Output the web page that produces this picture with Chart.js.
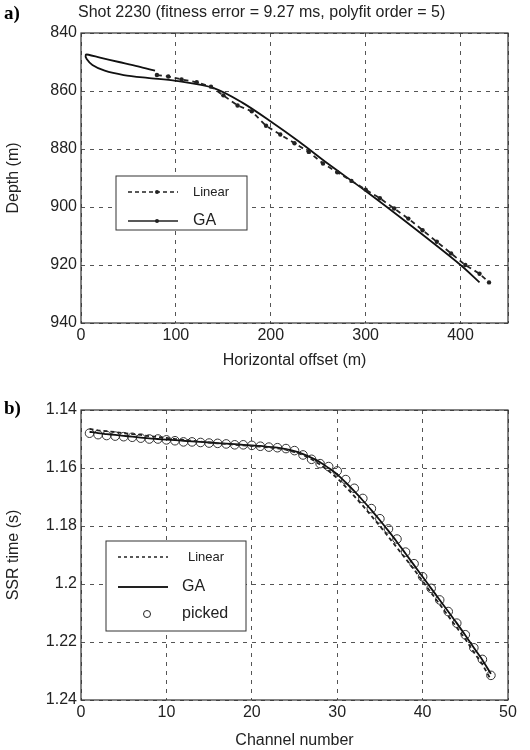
<!DOCTYPE html>
<html><head><meta charset="utf-8">
<script src="https://cdn.jsdelivr.net/npm/chart.js@4"></script>
<style>
body{margin:0;background:#fff;width:530px;height:750px;position:relative;overflow:hidden;font-family:"Liberation Sans",Arial,sans-serif}
.c{position:absolute;left:0}
.lab{position:absolute;font-family:"Liberation Serif","DejaVu Serif",serif;font-weight:bold;font-size:19px}
.ttl{position:absolute;left:78px;top:3px;font-size:16px;color:#222}
</style></head><body>
<div class="c" style="top:0;width:530px;height:370px"><canvas id="a"></canvas></div>
<div class="c" style="top:370px;width:530px;height:380px"><canvas id="b"></canvas></div>
<div class="lab" style="left:4px;top:2px">a)</div>
<div class="lab" style="left:4px;top:397px">b)</div>
<div class="ttl">Shot 2230 (fitness error = 9.27 ms, polyfit order = 5)</div>
<script>
// Panel a: ray path
const gaX = [78,60,40,20,8,5,6,12,25,45,70,100,140,170,200,230,260,300,350,400,420];
const gaY = [853,851.5,850,848.5,847.5,847.5,849,851,853,854.5,855.5,856.5,859,864,870.5,877.5,885,894.5,907,920,926];
const linX = [80,92,106,122,137,150,165,180,195,210,225,240,255,270,285,300,315,330,345,360,375,390,405,420,430];
const linY = [854.5,855,856,857,858.5,861.5,865,867,872,875,878,881,885,888,891,894,897,900.5,904,908,912,916,920,923,926];
const xTicksA = [0,100,200,300,400];
// Panel b: SSR times
const channels = Array.from({length:48},(_,i)=>i+1);
const picked = [1.148,1.1485,1.1488,1.149,1.1492,1.1494,1.1497,1.150,1.150,1.1503,1.1506,1.151,1.151,1.1512,1.1514,1.1515,1.1517,1.152,1.152,1.1522,1.1525,1.1528,1.153,1.1533,1.154,1.1555,1.157,1.1585,1.1595,1.161,1.164,1.167,1.1705,1.174,1.1775,1.181,1.1845,1.189,1.193,1.1975,1.2015,1.2055,1.2095,1.2135,1.2175,1.222,1.226,1.2315];
const ga = [1.1475,1.148,1.1483,1.1486,1.1489,1.1492,1.1495,1.1498,1.150,1.1502,1.1504,1.1506,1.1508,1.151,1.1512,1.1514,1.1516,1.1518,1.152,1.1522,1.1524,1.1527,1.153,1.1535,1.1542,1.1552,1.1565,1.158,1.16,1.1622,1.165,1.168,1.1712,1.1745,1.178,1.1817,1.1855,1.1895,1.1935,1.1975,1.2015,1.2055,1.2095,1.2135,1.2177,1.222,1.2262,1.231];
const linear = [1.1465,1.147,1.1473,1.1476,1.148,1.1483,1.1486,1.149,1.1493,1.1496,1.15,1.1503,1.1506,1.1509,1.1512,1.1515,1.1517,1.152,1.1522,1.1524,1.1526,1.1529,1.1532,1.1537,1.1545,1.1555,1.157,1.1588,1.161,1.1635,1.1665,1.1697,1.173,1.1765,1.18,1.1837,1.1875,1.1912,1.195,1.199,1.203,1.207,1.211,1.215,1.219,1.2235,1.2277,1.233];

const F = {family:'"Liberation Sans",Arial,sans-serif', size:16};
const frame = {id:'frame', afterDraw(c){const a=c.chartArea,x=c.ctx;x.save();x.strokeStyle='#333';x.lineWidth=1.2;x.strokeRect(a.left,a.top,a.right-a.left,a.bottom-a.top);x.restore();}};
function legendPlugin(box, items){return {id:'leg',afterDraw(c){const x=c.ctx;x.save();x.fillStyle='#fff';x.fillRect(box[0],box[1],box[2],box[3]);x.strokeStyle='#333';x.lineWidth=1;x.strokeRect(box[0],box[1],box[2],box[3]);
items.forEach(it=>{x.strokeStyle='#222';x.fillStyle='#222';x.lineWidth=it.w||1.5;x.setLineDash(it.dash||[]);
 if(it.line){x.beginPath();x.moveTo(box[0]+12,it.y);x.lineTo(box[0]+62,it.y);x.stroke();}
 x.setLineDash([]);
 if(it.dot){x.beginPath();x.arc(box[0]+41,it.y,2,0,7);x.fill();}
 if(it.circ){x.beginPath();x.arc(box[0]+41,it.y,3.5,0,7);x.lineWidth=1;x.stroke();}
 x.font=(it.fs||15)+'px "Liberation Sans",Arial';x.textBaseline='middle';x.fillText(it.t,box[0]+it.tx,it.y);});
x.restore();}};}
function axes(xmin,xmax,xstep,ymin,ymax,ystep,xt,yt,rev,yafter,xh,yfmt,xfmt){return {
 x:{type:'linear',min:xmin,max:xmax,ticks:{stepSize:xstep,color:'#222',font:F,padding:3,callback:xfmt},grid:{color:'#555',drawTicks:false},border:{dash:[4,5],display:false},title:{display:true,text:xt,color:'#222',font:F,padding:{top:0,bottom:0}},afterFit(s){s.height=xh;}},
 y:{type:'linear',reverse:rev,min:ymin,max:ymax,ticks:{stepSize:ystep,color:'#222',font:F,padding:4,callback:yfmt},grid:{color:'#555',drawTicks:false},border:{dash:[4,5],display:false},title:{display:true,text:yt,color:'#222',font:F,padding:{bottom:4}},afterFit(s){s.width=yafter;}}};}

new Chart(document.getElementById('a'),{type:'scatter',
 data:{datasets:[
  {label:'Linear',data:linX.map((v,i)=>({x:v,y:linY[i]})),showLine:true,borderColor:'#222',borderDash:[5,4],borderWidth:1.8,pointRadius:2.2,pointBackgroundColor:'#222',pointBorderWidth:0},
  {label:'GA',data:gaX.map((v,i)=>({x:v,y:gaY[i]})),showLine:true,borderColor:'#111',borderWidth:1.8,pointRadius:0,tension:0.3}]},
 options:{responsive:true,maintainAspectRatio:false,animation:false,layout:{padding:{top:33,right:22,left:0,bottom:0}},
  plugins:{legend:{display:false},tooltip:{enabled:false}},
  scales:axes(0,450,100,840,940,20,'Horizontal offset (m)','Depth (m)',true,81,47,undefined,v=>xTicksA.includes(v)?String(v):'')},
 plugins:[frame,legendPlugin([116,176,131,54],[{t:'Linear',y:192,line:true,dash:[4,3],dot:true,tx:77,fs:13},{t:'GA',y:221,line:true,tx:77,fs:16,dot:true}])]});

new Chart(document.getElementById('b'),{type:'scatter',
 data:{datasets:[
  {label:'Linear',data:channels.map((v,i)=>({x:v,y:linear[i]})),showLine:true,borderColor:'#222',borderDash:[4,3],borderWidth:1.8,pointRadius:0},
  {label:'GA',data:channels.map((v,i)=>({x:v,y:ga[i]})),showLine:true,borderColor:'#111',borderWidth:1.8,pointRadius:0,tension:0.3},
  {label:'picked',data:channels.map((v,i)=>({x:v,y:picked[i]})),showLine:false,pointRadius:4.3,pointBorderColor:'#333',pointBackgroundColor:'rgba(255,255,255,0)',pointBorderWidth:1}]},
 options:{responsive:true,maintainAspectRatio:false,animation:false,layout:{padding:{top:40,right:22,left:0,bottom:0}},
  plugins:{legend:{display:false},tooltip:{enabled:false}},
  scales:axes(0,50,10,1.14,1.24,0.02,'Channel number','SSR time (s)',true,81,50,v=>String(Math.round(v*100)/100))},
 plugins:[frame,legendPlugin([106,171,140,90],[{t:'Linear',y:187,line:true,dash:[3,3],tx:82,fs:13},{t:'GA',y:217,line:true,w:2,tx:76,fs:16},{t:'picked',y:244,circ:true,tx:76,fs:16}])]});
</script></body></html>
